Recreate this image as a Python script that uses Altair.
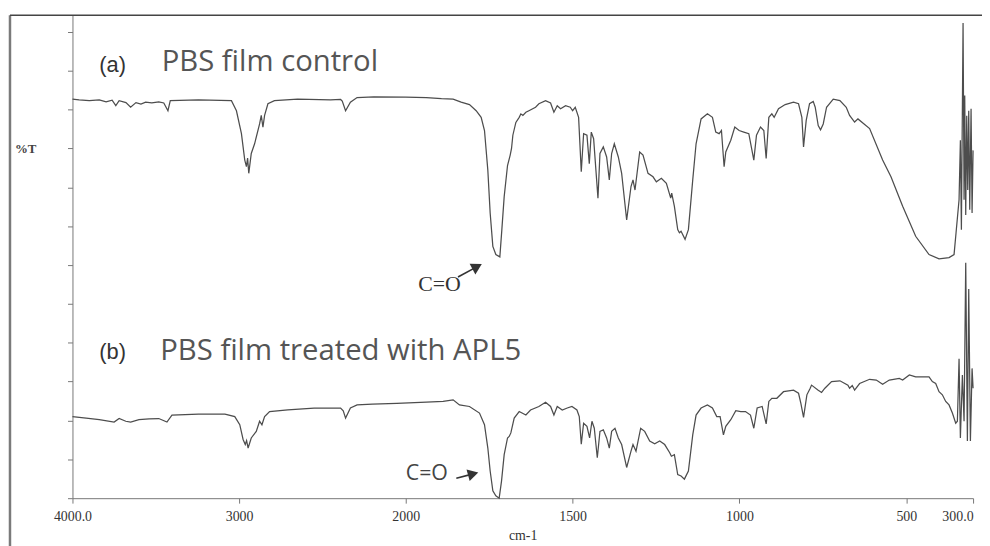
import altair as alt
import pandas as pd

# ---- spectrum (a): PBS film control (wavenumber cm-1, %T arbitrary units) ----
A_WN = [4000, 3960, 3899, 3839, 3798, 3762, 3740, 3720, 3679, 3651, 3619, 3589, 3561, 3524, 3482,
        3452, 3427, 3413, 3244, 3046, 3016, 2986, 2966, 2956, 2949, 2942, 2927, 2907, 2877, 2867,
        2857, 2847, 2827, 2788, 2649, 2451, 2391, 2381, 2361, 2332, 2292, 2192, 2000, 1938, 1893,
        1858, 1834, 1809, 1789, 1774, 1764, 1754, 1747, 1739, 1730, 1718, 1712, 1705, 1695, 1687,
        1683, 1679, 1670, 1660, 1655, 1649, 1640, 1631, 1611, 1601, 1581, 1566, 1556, 1546, 1536,
        1521, 1507, 1500, 1492, 1482, 1474, 1467, 1457, 1450, 1444, 1437, 1424, 1418, 1408, 1398,
        1390, 1383, 1375, 1363, 1353, 1338, 1325, 1319, 1313, 1299, 1289, 1274, 1259, 1249, 1234,
        1219, 1206, 1203, 1195, 1185, 1180, 1175, 1163, 1153, 1140, 1130, 1115, 1096, 1081, 1071,
        1061, 1054, 1046, 1041, 1026, 1014, 1001, 987, 972, 957, 949, 937, 927, 920, 912,
        903, 896, 883, 863, 838, 823, 813, 808, 800, 790, 779, 773, 764, 757, 749,
        739, 719, 699, 680, 670, 655, 645, 610, 571, 546, 511, 472, 432, 402, 372,
        357, 351, 342, 338, 335, 330, 327, 325, 322, 319, 316, 313, 310, 306, 303, 300]
A_T = [102.7, 102.5, 102.3, 102.5, 102.0, 102.4, 101.0, 102.3, 101.8, 100.6, 101.8, 101.4, 101.9, 101.7, 102.0,
       101.7, 99.7, 102.3, 102.5, 102.3, 99.7, 93.8, 87.0, 85.3, 87.5, 83.6, 88.7, 91.2, 96.3, 98.5,
       95.5, 98.5, 101.5, 102.3, 102.7, 102.5, 102.6, 102.2, 99.7, 101.9, 103.1, 103.3, 103.2, 103.1, 102.8,
       102.7, 101.9, 101.3, 99.7, 98.0, 94.6, 84.4, 73.4, 64.8, 62.7, 62.1, 69.1, 77.6, 85.6, 88.3,
       90.0, 93.4, 96.7, 98.0, 98.9, 98.5, 99.3, 99.7, 100.6, 101.5, 102.3, 101.7, 99.3, 101.0, 100.2,
       101.0, 100.6, 99.7, 100.6, 98.0, 84.0, 93.8, 93.4, 86.1, 94.2, 92.5, 77.2, 88.7, 90.4, 87.8,
       81.9, 88.7, 91.2, 87.8, 83.6, 71.6, 80.2, 81.9, 79.3, 89.1, 88.3, 83.6, 82.7, 81.4, 82.3,
       81.0, 77.2, 78.5, 75.1, 69.1, 68.3, 68.7, 66.6, 69.1, 81.9, 91.2, 97.6, 98.9, 98.0, 94.2,
       93.8, 94.6, 85.3, 89.1, 92.1, 95.5, 94.6, 94.2, 93.8, 87.0, 93.4, 95.5, 94.6, 87.4, 98.0,
       98.9, 98.0, 100.2, 101.3, 101.9, 101.5, 98.0, 90.4, 97.2, 101.5, 102.1, 100.6, 95.9, 94.8, 96.3,
       100.6, 102.7, 102.3, 100.6, 98.5, 96.8, 97.6, 95.1, 87.0, 82.7, 75.1, 67.4, 62.7, 61.6, 61.9,
       62.7, 68.3, 76.8, 92.1, 69.1, 122.3, 76.8, 103.6, 72.9, 98.4, 79.3, 99.7, 74.2, 100.2, 73.4, 89.5]

# ---- spectrum (b): PBS film treated with APL5 ----
B_WN = [4000, 3918, 3839, 3750, 3720, 3680, 3651, 3601, 3540, 3482, 3433, 3403, 3244, 3085, 3026,
        2996, 2976, 2963, 2955, 2946, 2927, 2897, 2877, 2863, 2847, 2817, 2708, 2550, 2391, 2375,
        2361, 2332, 2292, 2200, 2054, 1938, 1888, 1858, 1839, 1809, 1779, 1764, 1754, 1747, 1739,
        1730, 1720, 1713, 1705, 1695, 1690, 1685, 1675, 1660, 1640, 1626, 1601, 1581, 1566, 1556,
        1546, 1531, 1516, 1502, 1487, 1480, 1474, 1467, 1457, 1449, 1442, 1435, 1426, 1418, 1408,
        1398, 1390, 1383, 1373, 1363, 1353, 1338, 1325, 1319, 1310, 1296, 1284, 1269, 1254, 1239,
        1224, 1209, 1204, 1195, 1185, 1175, 1165, 1153, 1140, 1130, 1115, 1096, 1081, 1068, 1058,
        1048, 1041, 1026, 1011, 996, 982, 967, 957, 947, 932, 920, 912, 903, 888, 868,
        838, 823, 816, 808, 798, 788, 784, 764, 754, 744, 724, 699, 675, 670, 662,
        655, 640, 610, 590, 571, 551, 521, 511, 491, 472, 432, 422, 412, 402, 392,
        382, 372, 362, 352, 347, 342, 338, 332, 327, 322, 317, 313, 308, 303, 300]
B_T = [21.0, 20.6, 20.2, 19.6, 20.5, 19.8, 19.6, 20.2, 20.4, 20.5, 19.6, 21.4, 21.6, 21.6, 21.0,
       18.9, 15.1, 13.8, 14.8, 12.9, 15.5, 17.2, 19.8, 18.9, 21.0, 22.3, 22.7, 23.2, 23.2, 22.5,
       20.6, 23.2, 24.0, 24.2, 24.4, 24.7, 24.9, 25.3, 24.0, 23.6, 21.9, 18.9, 12.9, 7.0, 1.9,
       0.6, 0.0, 4.4, 11.2, 15.5, 15.9, 16.8, 20.6, 22.3, 21.4, 22.7, 23.6, 24.7, 23.6, 21.4,
       23.6, 22.7, 23.2, 23.6, 22.7, 21.0, 13.9, 19.3, 18.5, 15.5, 19.8, 18.0, 10.4, 17.2, 17.6,
       15.5, 12.9, 17.2, 18.0, 15.5, 13.8, 7.9, 12.1, 13.8, 12.1, 18.0, 17.2, 14.7, 14.0, 14.7,
       13.8, 11.7, 10.8, 11.2, 6.1, 5.7, 4.9, 7.0, 16.3, 21.4, 23.2, 24.0, 23.2, 21.0, 21.0,
       16.3, 18.5, 20.2, 22.5, 22.3, 22.3, 21.4, 18.0, 23.2, 23.6, 19.1, 24.9, 25.7, 25.7, 27.4,
       27.8, 27.0, 24.4, 20.8, 26.6, 28.3, 29.1, 27.8, 27.2, 28.3, 30.0, 30.2, 29.1, 28.3, 29.0,
       27.8, 29.5, 30.6, 30.4, 29.3, 30.4, 30.8, 30.4, 31.7, 31.2, 31.2, 30.0, 29.5, 27.4, 26.6,
       24.9, 24.0, 21.9, 19.3, 19.8, 35.9, 15.5, 31.7, 19.8, 60.6, 14.7, 53.8, 14.7, 33.4, 28.3]

X_TICKS = [4000, 3000, 2000, 1500, 1000, 500, 300]
Y_TICKS = [0, 10, 20, 30, 40, 50, 60, 70, 80, 90, 100, 110, 120]

df = pd.concat([
    pd.DataFrame({"wn": A_WN, "T": A_T, "series": "a"}),
    pd.DataFrame({"wn": B_WN, "T": B_T, "series": "b"}),
], ignore_index=True)

W, H = 908, 487
ONE = pd.DataFrame({"k": [0]})

xscale = alt.Scale(domain=[4000, 2000, 300], range=[0, 336, W], nice=False, zero=False)
yscale = alt.Scale(domain=[0, 124.3], nice=False, zero=False)

spectra = alt.Chart(df).mark_line(color="#4d4d4d", strokeWidth=1.25).encode(
    x=alt.X("wn:Q", scale=xscale,
            axis=alt.Axis(values=X_TICKS, format="d", title=None, grid=False,
                          labelExpr="datum.value == 4000 ? '4000.0' : (datum.value == 300 ? '300.0' : datum.label)",
                          labelAlign=alt.condition("datum.value == 300", alt.value("right"), alt.value("center")),
                          labelFont="Liberation Serif", labelFontSize=14, labelColor="#333",
                          tickSize=5, labelPadding=6, domainColor="#777", tickColor="#777",
                          labelOverlap=False, labelFlush=False)),
    y=alt.Y("T:Q", scale=yscale,
            axis=alt.Axis(values=Y_TICKS, labels=False, title=None, grid=False,
                          tickSize=5, domainColor="#777", tickColor="#777")),
    detail="series:N",
)


def txt(s, x, y, font, size, color="#333", weight="normal"):
    return alt.Chart(ONE).mark_text(text=s, font=font, fontSize=size, color=color,
                                    fontWeight=weight, align="left", baseline="alphabetic").encode(
        x=alt.value(x), y=alt.value(y))


def rule(x, y, x2=None, y2=None, color="#444", width=1.5):
    enc = {"x": alt.value(x), "y": alt.value(y)}
    if x2 is not None:
        enc["x2"] = alt.value(x2)
    if y2 is not None:
        enc["y2"] = alt.value(y2)
    return alt.Chart(ONE).mark_rule(color=color, strokeWidth=width).encode(**enc)


def head(x, y, angle, size=150):
    return alt.Chart(ONE).mark_point(shape="triangle-right", filled=True, color="#333",
                                     size=size, angle=angle, opacity=1).encode(
        x=alt.value(x), y=alt.value(y))


layers = [
    rule(-63, 0, y2=540, color="#7a7a7a", width=2.5),
    rule(-63, 0, x2=920, color="#444", width=1.5),
    spectra,
    txt("(a)", 27, 57, "Liberation Sans", 22, "#333"),
    txt("PBS film control", 90, 56.5, "Open Sans", 29.5, "#555"),
    txt("(b)", 27, 347, "Liberation Sans", 22, "#333"),
    txt("PBS film treated with APL5", 88.5, 347.5, "Open Sans", 29.5, "#555"),
    txt("C=O", 348.5, 278, "Liberation Serif", 22, "#333"),
    rule(388.7, 264, x2=408, y2=253.5, color="#333", width=1.6),
    head(408, 253.5, 332),
    txt("C=O", 336, 468.5, "Open Sans", 21.5, "#444"),
    rule(387, 467, x2=404, y2=462.5, color="#333", width=1.6),
    head(404, 462.5, 345),
    txt("%T", -58, 139, "Liberation Serif", 13, "#444", "bold"),
    txt("cm-1", 440, 529, "Liberation Serif", 14, "#333"),
]

chart = alt.layer(*layers).properties(
    width=W, height=H,
    autosize=alt.AutoSizeParams(type="none"),
    padding={"left": 65, "top": 5, "right": 9, "bottom": 46},
    background="white",
).configure_view(stroke=None)

chart.save("out.html", embed_options={"renderer": "svg", "actions": False})
